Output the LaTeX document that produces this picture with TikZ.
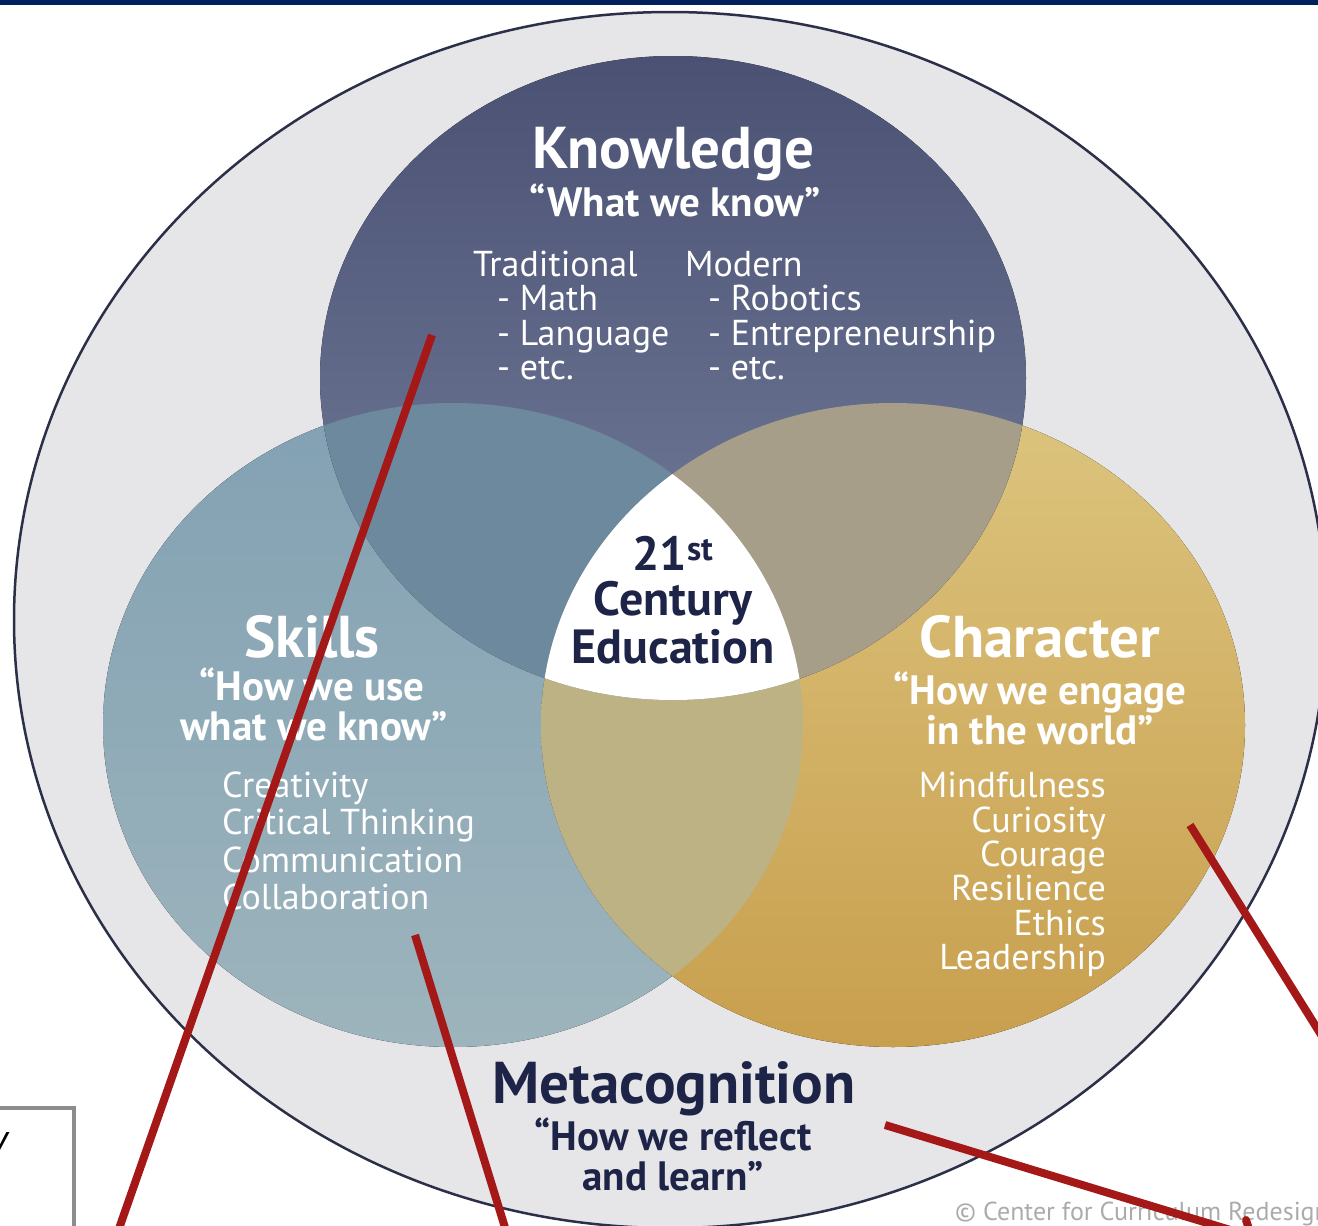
\documentclass[tikz,border=0pt]{standalone}
\usepackage{fontspec}
\setmainfont{PT Sans}
\definecolor{topbar}{HTML}{00205B}
\definecolor{outerfill}{HTML}{E6E6E8}
\definecolor{outerline}{HTML}{2B2F48}
\definecolor{knowtop}{HTML}{4A5173}
\definecolor{knowbot}{HTML}{78819F}
\definecolor{skilltop}{HTML}{82A1B3}
\definecolor{skillbot}{HTML}{9DB4BC}
\definecolor{chartop}{HTML}{DCC47E}
\definecolor{charbot}{HTML}{C89F4E}
\definecolor{ksfill}{HTML}{6C899E}
\definecolor{kcfill}{HTML}{A69E88}
\definecolor{scfill}{HTML}{BDB284}
\definecolor{navy}{HTML}{1D2447}
\definecolor{pointerred}{HTML}{A51818}
\definecolor{credit}{HTML}{ABABAB}
\begin{document}
\begin{tikzpicture}[
  x=1pt, y=-1pt,
  title/.style={font=\fontsize{59}{62}\selectfont\bfseries, inner sep=0pt, anchor=base},
  motto/.style={font=\fontsize{41}{43}\selectfont\bfseries, inner sep=0pt, anchor=base},
  centre/.style={font=\fontsize{48}{50}\selectfont\bfseries, text=navy, inner sep=0pt, anchor=base},
  item/.style={font=\fontsize{36}{36}\selectfont, inner sep=0pt, anchor=base west},
  pointer/.style={line width=8pt, draw=pointerred}
]
\useasboundingbox (0,0) rectangle (1318,1226);

% Top bar
\fill[topbar] (0,0) rectangle (1318,5);

% Outer ellipse
\filldraw[fill=outerfill, draw=outerline, line width=2.5pt] (670,620) ellipse [x radius=656pt, y radius=608pt];

% Three circles
\fill[top color=skilltop, bottom color=skillbot] (453,725) ellipse [x radius=350pt, y radius=322pt];
\fill[top color=chartop, bottom color=charbot] (893,725) ellipse [x radius=352pt, y radius=322pt];
\fill[top color=knowtop, bottom color=knowbot] (673,378) ellipse [x radius=353pt, y radius=322pt];

% Overlaps
\begin{scope}
  \clip (453,725) ellipse [x radius=350pt, y radius=322pt];
  \fill[scfill] (893,725) ellipse [x radius=352pt, y radius=322pt];
\end{scope}
\begin{scope}
  \clip (673,378) ellipse [x radius=353pt, y radius=322pt];
  \fill[ksfill] (453,725) ellipse [x radius=350pt, y radius=322pt];
  \fill[kcfill] (893,725) ellipse [x radius=352pt, y radius=322pt];
  \clip (453,725) ellipse [x radius=350pt, y radius=322pt];
  \fill[white] (893,725) ellipse [x radius=352pt, y radius=322pt];
\end{scope}

% Knowledge
\node[title, text=white] (knowtitle) at (673,168) {Knowledge};
\node[motto, text=white] (knowmotto) at (675,216) {“What we know”};
\node[item, text=white] (trad) at (473,276) {Traditional};
\node[item, text=white] (math) at (497,310) {- Math};
\node[item, text=white] (lang) at (497,345) {- Language};
\node[item, text=white] (tetc) at (497,379) {- etc.};
\node[item, text=white] (modern) at (685,276) {Modern};
\node[item, text=white] (robot) at (708,310) {- Robotics};
\node[item, text=white] (entre) at (708,345) {- Entrepreneurship};
\node[item, text=white] (metc) at (708,379) {- etc.};

% Skills
\node[title, text=white] (skilltitle) at (312,657) {Skills};
\node[motto, text=white] (skillmotto) at (312,700) {“How we use};
\node[motto, text=white] (skillmotto2) at (314,740) {what we know”};
\node[item, text=white] (creat) at (222,797) {Creativity};
\node[item, text=white] (crit) at (222,834) {Critical Thinking};
\node[item, text=white] (comm) at (222,872) {Communication};
\node[item, text=white] (collab) at (222,909) {Collaboration};

% Character
\node[title, text=white] (chartitle) at (1040,657) {Character};
\node[motto, text=white] (charmotto) at (1040,704) {“How we engage};
\node[motto, text=white] (charmotto2) at (1040,744) {in the world”};
\node[item, text=white, anchor=base east] (mind) at (1106,797) {Mindfulness};
\node[item, text=white, anchor=base east] (curio) at (1106,832) {Curiosity};
\node[item, text=white, anchor=base east] (cour) at (1106,866) {Courage};
\node[item, text=white, anchor=base east] (resil) at (1106,900) {Resilience};
\node[item, text=white, anchor=base east] (ethic) at (1106,935) {Ethics};
\node[item, text=white, anchor=base east] (lead) at (1106,969) {Leadership};

% Center
\node[centre] (twentyfirst) at (673,570) {21\textsuperscript{st}};
\node[centre] (century) at (673,615) {Century};
\node[centre] (educ) at (673,663) {Education};

% Metacognition
\node[title, text=navy] (metatitle) at (674,1103) {Metacognition};
\node[motto, text=navy] (metamotto) at (673,1150) {“How we reflect};
\node[motto, text=navy] (metamotto2) at (673,1190) {and learn”};

% Credit
\node[font=\fontsize{26}{28}\selectfont, text=credit, inner sep=0pt, anchor=base west] (credit) at (955,1220) {© Center for Curriculum Redesign};

% Cut-off box
\draw[draw=gray!90, line width=4pt] (-20,1108) rectangle (74,1250);
\node[font=\fontsize{40}{42}\selectfont\itshape, inner sep=0pt, anchor=base east] (boxtext) at (8,1152) {y};

% Pointers
\coordinate (knowpt) at (432,335);
\coordinate (knowend) at (108,1260);
\coordinate (skillpt) at (415,935);
\coordinate (skillend) at (515,1260);
\coordinate (charpt) at (1190,825);
\coordinate (charend) at (1340,1065);
\coordinate (metapt) at (885,1125);
\coordinate (metaend) at (1260,1239);
\coordinate (blobpt) at (1246,1220);
\coordinate (blobend) at (1256,1250);
\draw[pointer] (knowpt) -- (knowend);
\draw[pointer] (skillpt) -- (skillend);
\draw[pointer] (charpt) -- (charend);
\draw[pointer] (metapt) -- (metaend);
\draw[pointer, line cap=round] (blobpt) -- (blobend);

\end{tikzpicture}
\end{document}
